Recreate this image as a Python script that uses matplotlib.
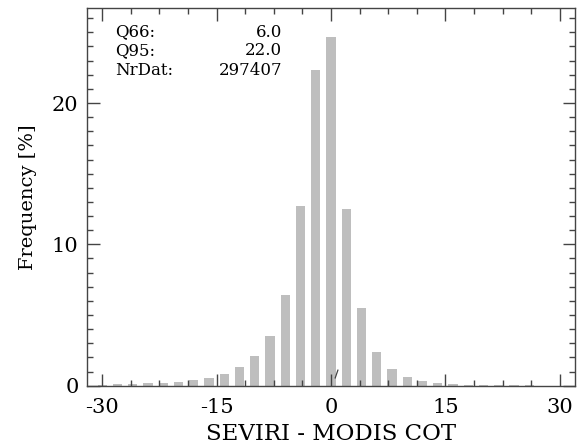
import matplotlib
matplotlib.use("Agg")
import matplotlib.pyplot as plt
from matplotlib.ticker import MultipleLocator

# Histogram of SEVIRI - MODIS cloud optical thickness differences (2-unit bins)
bin_centers = list(range(-30, 31, 2))
frequency = [0.05, 0.10, 0.14, 0.17, 0.22, 0.27, 0.38, 0.57, 0.85, 1.30,
             2.10, 3.54, 6.45, 12.7, 22.3, 24.7, 12.5, 5.5, 2.4, 1.2,
             0.64, 0.35, 0.21, 0.11, 0.08, 0.06, 0.04, 0.03, 0.02, 0.01, 0.01]

stat_names = ["Q66:", "Q95:", "NrDat:"]
stat_values = ["6.0", "22.0", "297407"]

x_ticks = [-30, -15, 0, 15, 30]
y_ticks = [0, 10, 20]

plt.rcParams["font.family"] = ["DejaVu Serif"]

fig = plt.figure(figsize=(5.85, 4.46), dpi=100)
ax = fig.add_axes([0.1487, 0.1352, 0.8343, 0.8462])

ax.bar(bin_centers, frequency, width=1.2, color="#bebebe", edgecolor="none")

# small slash mark near the origin
ax.plot([0.55, 0.9], [0.55, 1.1], color="#444444", lw=0.9)

ax.set_xlim(-32, 32)
ax.set_ylim(0, 26.7)
ax.set_xticks(x_ticks)
ax.set_xticklabels([str(t) for t in x_ticks])
ax.set_yticks(y_ticks)
ax.set_yticklabels([str(t) for t in y_ticks])
ax.xaxis.set_minor_locator(MultipleLocator(3.75))
ax.yaxis.set_minor_locator(MultipleLocator(1))

ax.tick_params(which="both", direction="in", top=True, right=True,
               color="#444444", labelsize=15)
ax.tick_params(axis="x", pad=9)
ax.tick_params(axis="y", pad=6)
ax.tick_params(which="major", length=9, width=1)
ax.tick_params(which="minor", length=4.5, width=1)

for s in ax.spines.values():
    s.set_color("#444444")
    s.set_linewidth(1)

ax.set_xlabel("SEVIRI - MODIS COT", fontsize=16.5, labelpad=4)
ax.set_ylabel("Frequency [%]", fontsize=14, labelpad=11)

ys = [0.937, 0.887, 0.834]
for name, val, y in zip(stat_names, stat_values, ys):
    ax.text(0.057, y, name, transform=ax.transAxes, fontsize=12,
            ha="left", va="center")
    ax.text(0.40, y, val, transform=ax.transAxes, fontsize=12,
            ha="right", va="center")

fig.savefig("out.png", dpi=100)
